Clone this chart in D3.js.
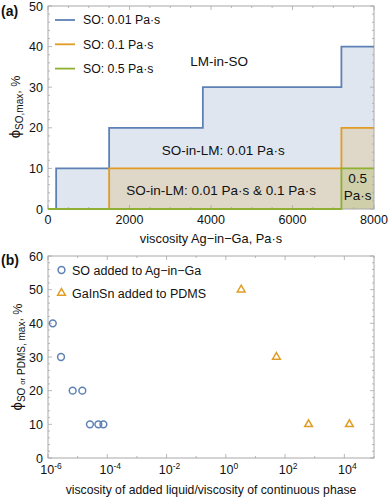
<!DOCTYPE html>
<html><head><meta charset="utf-8">
<script src="https://cdn.jsdelivr.net/npm/d3@7"></script>
<style>body{margin:0;background:#fff} text{font-family:"Liberation Sans",Arial,sans-serif;fill:#111}</style>
</head><body><svg id="c" width="390" height="499"></svg>
<script>
// ---------- Panel (a) data ----------
const seriesA = ["SO: 0.01 Pa·s", "SO: 0.1 Pa·s", "SO: 0.5 Pa·s"];
const blueEdges = [200, 1500, 3800, 7200, 8000];
const blueVals = [10, 20, 30, 40];
const orangeEdges = [1500, 7200, 8000];
const orangeVals = [10, 20];
const greenEdges = [0, 7200, 8000];
const greenVals = [0, 10];
const xTicksA = [0, 2000, 4000, 6000, 8000];
const yTicksA = [0, 10, 20, 30, 40, 50];
// ---------- Panel (b) data ----------
const seriesB = ["SO added to Ag\u2212in\u2212Ga", "GaInSn added to PDMS"];
const soRatio = [1.45e-6, 2.75e-6, 6.8e-6, 1.44e-5, 2.6e-5, 5.0e-5, 7.4e-5];
const soPhi = [40, 30, 20, 20, 10, 10, 10];
const gaRatio = [3.3, 51, 620, 14800];
const gaPhi = [50, 30, 10, 10];
const xTickExpB = [-6, -4, -2, 0, 2, 4];
const yTicksB = [0, 10, 20, 30, 40, 50, 60];

const colors = ["#5E81B5", "#E19C24", "#8FB032"];
const frameCol = "#a8a8a8";
const svg = d3.select("#c");

function frameAndTicks(g, x, y, xMaj, xMin, yMaj, yMin, L, R, T, B) {
  g.append("rect").attr("x", L).attr("y", T).attr("width", R - L).attr("height", B - T)
    .attr("fill", "none").attr("stroke", frameCol).attr("stroke-width", 1);
  const t = g.append("g").attr("stroke", frameCol).attr("stroke-width", 0.8);
  xMaj.forEach(v => { const px = x(v);
    t.append("line").attr("x1", px).attr("x2", px).attr("y1", B).attr("y2", B - 4);
    t.append("line").attr("x1", px).attr("x2", px).attr("y1", T).attr("y2", T + 4); });
  xMin.forEach(v => { const px = x(v);
    t.append("line").attr("x1", px).attr("x2", px).attr("y1", B).attr("y2", B - 2);
    t.append("line").attr("x1", px).attr("x2", px).attr("y1", T).attr("y2", T + 2); });
  yMaj.forEach(v => { const py = y(v);
    t.append("line").attr("x1", L).attr("x2", L + 4).attr("y1", py).attr("y2", py);
    t.append("line").attr("x1", R).attr("x2", R - 4).attr("y1", py).attr("y2", py); });
  yMin.forEach(v => { const py = y(v);
    t.append("line").attr("x1", L).attr("x2", L + 2).attr("y1", py).attr("y2", py);
    t.append("line").attr("x1", R).attr("x2", R - 2).attr("y1", py).attr("y2", py); });
}

// ================= Panel (a) =================
{
  const L = 48, R = 374, T = 6, B = 209;
  const x = d3.scaleLinear().domain([0, 8000]).range([L, R]);
  const y = d3.scaleLinear().domain([0, 50]).range([B, T]);
  const g = svg.append("g");

  const stepPts = (edges, vals) => {
    const p = [[edges[0], 0]];
    vals.forEach((v, i) => { p.push([edges[i], v]); p.push([edges[i + 1], v]); });
    return p;
  };
  const steps = [stepPts(blueEdges, blueVals), stepPts(orangeEdges, orangeVals), stepPts(greenEdges, greenVals)];
  const line = d3.line().x(d => x(d[0])).y(d => y(d[1]));
  steps.forEach((p, i) => {
    const poly = p.concat([[p[p.length - 1][0], 0]]);
    g.append("path").attr("d", line(poly) + "Z").attr("fill", colors[i]).attr("fill-opacity", 0.2).attr("stroke", "none");
  });

  const xMin = d3.range(0, 8001, 500).filter(v => !xTicksA.includes(v));
  const yMin = d3.range(0, 51, 2).filter(v => !yTicksA.includes(v));
  frameAndTicks(g, x, y, xTicksA, xMin, yTicksA, yMin, L, R, T, B);

  steps.forEach((p, i) => {
    g.append("path").attr("d", line(p)).attr("fill", "none").attr("stroke", colors[i]).attr("stroke-width", 1.8);
  });

  // tick labels
  g.selectAll(".xl").data(xTicksA).join("text").attr("x", d => x(d)).attr("y", B + 15)
    .attr("text-anchor", "middle").attr("font-size", 12.5).text(d => d);
  g.selectAll(".yl").data(yTicksA).join("text").attr("x", L - 5).attr("y", d => y(d) + 4.5)
    .attr("text-anchor", "end").attr("font-size", 12.5).text(d => d);

  // legend
  seriesA.forEach((s, i) => {
    const yy = 20 + i * 24.3;
    g.append("line").attr("x1", 55).attr("x2", 75).attr("y1", yy).attr("y2", yy)
      .attr("stroke", colors[i]).attr("stroke-width", 1.8);
    g.append("text").attr("x", 83).attr("y", yy + 4.3).attr("font-size", 12.3).text(s);
  });

  // region labels
  const lab = (tx, vx, vy, fs) => g.append("text").attr("x", x(vx)).attr("y", y(vy))
    .attr("text-anchor", "middle").attr("font-size", fs).text(tx);
  lab("LM-in-SO", 4200, 35.3, 13.5);
  lab("SO-in-LM: 0.01 Pa·s", 4300, 13.2, 13.5);
  lab("SO-in-LM: 0.01 Pa·s & 0.1 Pa·s", 4250, 3.4, 13.5);
  lab("0.5", 7600, 6.4, 13.5);
  lab("Pa·s", 7600, 2.2, 13.5);

  // axis titles
  g.append("text").attr("x", (L + R) / 2).attr("y", 243).attr("text-anchor", "middle")
    .attr("font-size", 12.8).text("viscosity Ag\u2212in\u2212Ga, Pa·s");
  const yt = g.append("text").attr("transform", "translate(20,107) rotate(-90)").attr("text-anchor", "middle");
  yt.append("tspan").attr("font-size", 15).text("\u03D5");
  yt.append("tspan").attr("font-size", 10).attr("dy", 3).text("SO,max");
  yt.append("tspan").attr("font-size", 12.5).attr("dy", -3).text(", %");

  g.append("text").attr("x", 1).attr("y", 16).attr("font-size", 14).attr("font-weight", "bold").text("(a)");
}

// ================= Panel (b) =================
{
  const L = 48, R = 374, T = 256, B = 458;
  const x = d3.scaleLog().domain([1e-6, 1e5]).range([L, R]);
  const y = d3.scaleLinear().domain([0, 60]).range([B, T]);
  const g = svg.append("g");

  const xMaj = xTickExpB.map(e => Math.pow(10, e));
  const xMin = d3.range(-6, 6).filter(e => !xTickExpB.includes(e)).map(e => Math.pow(10, e));
  const yMin = d3.range(0, 61, 2).filter(v => !yTicksB.includes(v));
  frameAndTicks(g, x, y, xMaj, xMin, yTicksB, yMin, L, R, T, B);

  // tick labels
  xTickExpB.forEach(e => {
    const t = g.append("text").attr("x", x(Math.pow(10, e)) + 3).attr("y", B + 16)
      .attr("text-anchor", "middle").attr("font-size", 12.5);
    t.append("tspan").text("10");
    t.append("tspan").attr("font-size", 8.5).attr("dy", -5).text(e);
  });
  g.selectAll(".yl").data(yTicksB).join("text").attr("x", L - 5).attr("y", d => y(d) + 4.5)
    .attr("text-anchor", "end").attr("font-size", 12.5).text(d => d);

  // data
  const tri = d3.symbol().type(d3.symbolTriangle).size(26);
  g.selectAll(".so").data(soRatio).join("circle")
    .attr("cx", d => x(d)).attr("cy", (d, i) => y(soPhi[i])).attr("r", 3.4)
    .attr("fill", "none").attr("stroke", colors[0]).attr("stroke-width", 1.5);
  g.selectAll(".ga").data(gaRatio).join("path").attr("d", tri)
    .attr("transform", (d, i) => `translate(${x(d)},${y(gaPhi[i])})`)
    .attr("fill", "none").attr("stroke", colors[1]).attr("stroke-width", 1.5);

  // legend
  g.append("circle").attr("cx", 61.5).attr("cy", 270).attr("r", 3.4)
    .attr("fill", "none").attr("stroke", colors[0]).attr("stroke-width", 1.5);
  g.append("path").attr("d", tri).attr("transform", "translate(61.5,293)")
    .attr("fill", "none").attr("stroke", colors[1]).attr("stroke-width", 1.5);
  seriesB.forEach((s, i) => g.append("text").attr("x", 72).attr("y", 274.5 + i * 23)
    .attr("font-size", 12.5).text(s));

  // axis titles
  g.append("text").attr("x", (L + R) / 2).attr("y", 494).attr("text-anchor", "middle")
    .attr("font-size", 12.2).text("viscosity of added liquid/viscosity of continuous phase");
  const yt = g.append("text").attr("transform", "translate(22,357) rotate(-90)").attr("text-anchor", "middle");
  yt.append("tspan").attr("font-size", 15).text("\u03D5");
  yt.append("tspan").attr("font-size", 10).attr("dy", 3).text("SO ");
  yt.append("tspan").attr("font-size", 8).text("or");
  yt.append("tspan").attr("font-size", 10).text(" PDMS, max");
  yt.append("tspan").attr("font-size", 12.5).attr("dy", -3).text(", %");

  g.append("text").attr("x", 1).attr("y", 265).attr("font-size", 14).attr("font-weight", "bold").text("(b)");
}
</script></body></html>
